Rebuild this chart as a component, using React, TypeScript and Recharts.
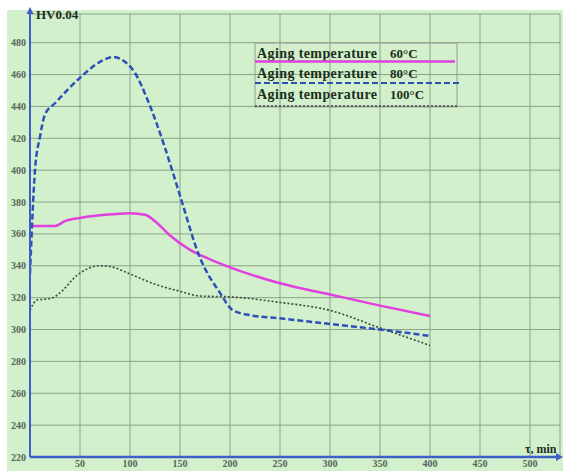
import React from 'react';
import { LineChart, Line, XAxis, YAxis, CartesianGrid } from 'recharts';

const aging60 = [
  { t: 0, hv: 365 }, { t: 10, hv: 365 }, { t: 25, hv: 365 }, { t: 35, hv: 368 },
  { t: 50, hv: 370 }, { t: 75, hv: 372 }, { t: 100, hv: 373 }, { t: 115, hv: 372 },
  { t: 125, hv: 368 }, { t: 140, hv: 359 }, { t: 160, hv: 350 }, { t: 180, hv: 344 },
  { t: 200, hv: 339 }, { t: 250, hv: 329 }, { t: 300, hv: 322 }, { t: 350, hv: 315 },
  { t: 400, hv: 308.5 },
];

const aging80 = [
  { t: 0, hv: 335 }, { t: 5, hv: 400 }, { t: 10, hv: 421 }, { t: 15, hv: 435 },
  { t: 25, hv: 442 }, { t: 50, hv: 458 }, { t: 70, hv: 468 }, { t: 83, hv: 471 },
  { t: 95, hv: 468 }, { t: 105, hv: 461 }, { t: 117, hv: 445 }, { t: 135, hv: 414 },
  { t: 150, hv: 384 }, { t: 170, hv: 345 }, { t: 190, hv: 323 },
  { t: 203, hv: 312 }, { t: 220, hv: 309 }, { t: 250, hv: 307 }, { t: 300, hv: 303.5 },
  { t: 350, hv: 300 }, { t: 400, hv: 296 },
];

const aging100 = [
  { t: 0, hv: 312 }, { t: 7, hv: 318.5 }, { t: 15, hv: 319 }, { t: 23, hv: 320 },
  { t: 30, hv: 323 }, { t: 47, hv: 334 }, { t: 70, hv: 340 }, { t: 80, hv: 339.5 },
  { t: 103, hv: 334 }, { t: 127, hv: 328 }, { t: 150, hv: 324 }, { t: 170, hv: 321 },
  { t: 200, hv: 320.5 }, { t: 250, hv: 317 }, { t: 300, hv: 312 }, { t: 350, hv: 301 },
  { t: 400, hv: 290 },
];

const xTicks = [50, 100, 150, 200, 250, 300, 350, 400, 450, 500];
const yTicks = [220, 240, 260, 280, 300, 320, 340, 360, 380, 400, 420, 440, 460, 480];

const legendName = 'Aging temperature';
const legendTemps = ['60°C', '80°C', '100°C'];

const serif = '"Liberation Serif", "DejaVu Serif", serif';
const axisBlue = '#3f5fc8';
const tickStyle = { fontSize: 10, fontWeight: 'bold' as const, fontFamily: serif, fill: '#55655a' };

export default function App() {
  const rows = [58, 78, 99];
  return (
    <div style={{ position: 'absolute', left: 0, top: 0, width: 563, height: 471, background: '#ffffff' }}>
      <div style={{ position: 'absolute', left: 7, top: 10, width: 556, height: 461, background: '#d3f0cd' }} />
      <div style={{ position: 'absolute', left: 0, top: 0 }}>
        <LineChart width={563} height={471} margin={{ top: 14, right: 3, left: 0, bottom: 0 }}>
          <CartesianGrid stroke="#8aa38b" strokeWidth={1} />
          <XAxis
            type="number"
            dataKey="t"
            domain={[0, 530]}
            ticks={xTicks}
            height={14}
            tickSize={0}
            tickMargin={3}
            tick={tickStyle}
            axisLine={{ stroke: axisBlue, strokeWidth: 2.5 }}
            allowDataOverflow
          />
          <YAxis
            type="number"
            domain={[220, 498]}
            ticks={yTicks}
            width={30}
            tickSize={0}
            tickMargin={4}
            tick={tickStyle}
            axisLine={{ stroke: axisBlue, strokeWidth: 2 }}
            allowDataOverflow
            interval={0}
          />
          <Line data={aging100} dataKey="hv" type="monotone" stroke="#3d4a3d" strokeWidth={1.6}
            strokeDasharray="2 2" dot={false} isAnimationActive={false} />
          <Line data={aging60} dataKey="hv" type="monotone" stroke="#e040de" strokeWidth={2.5}
            dot={false} isAnimationActive={false} />
          <Line data={aging80} dataKey="hv" type="monotone" stroke="#2d4fb8" strokeWidth={2.5}
            strokeDasharray="6 3" dot={false} isAnimationActive={false} />
        </LineChart>
      </div>
      <svg width={563} height={471} style={{ position: 'absolute', left: 0, top: 0, pointerEvents: 'none' }}>
        <line x1={30} y1={10} x2={30} y2={14} stroke={axisBlue} strokeWidth={2} />
        <polygon points="30,7 26.5,14 33.5,14" fill={axisBlue} />
        <polygon points="563,457 556,453 556,461" fill={axisBlue} />
        <text x={36} y={19} fontFamily={serif} fontWeight="bold" fontSize={13} fill="#1d2d1d">HV0.04</text>
        <text x={525} y={453} fontFamily={serif} fontWeight="bold" fontSize={12} fill="#1d2d1d">τ, min</text>
        <rect x={255} y={43} width={202} height={64} fill="none" stroke="#9a9a9a" strokeWidth={1} />
        {rows.map((y, i) => (
          <g key={i}>
            <text x={257} y={y} fontFamily={serif} fontWeight="bold" fontSize={14} letterSpacing={0.4} fill="#1c2e1c">{legendName}</text>
            <text x={390} y={y} fontFamily={serif} fontWeight="bold" fontSize={13} fill="#1c2e1c">{legendTemps[i]}</text>
          </g>
        ))}
        <line x1={255} y1={61.5} x2={455} y2={61.5} stroke="#e040de" strokeWidth={2.5} />
        <line x1={255} y1={83} x2={460} y2={83} stroke="#2d4fb8" strokeWidth={2} strokeDasharray="6 3" />
        <line x1={255} y1={106} x2={457} y2={106} stroke="#3d4a3d" strokeWidth={1.5} strokeDasharray="2 2" />
      </svg>
    </div>
  );
}
